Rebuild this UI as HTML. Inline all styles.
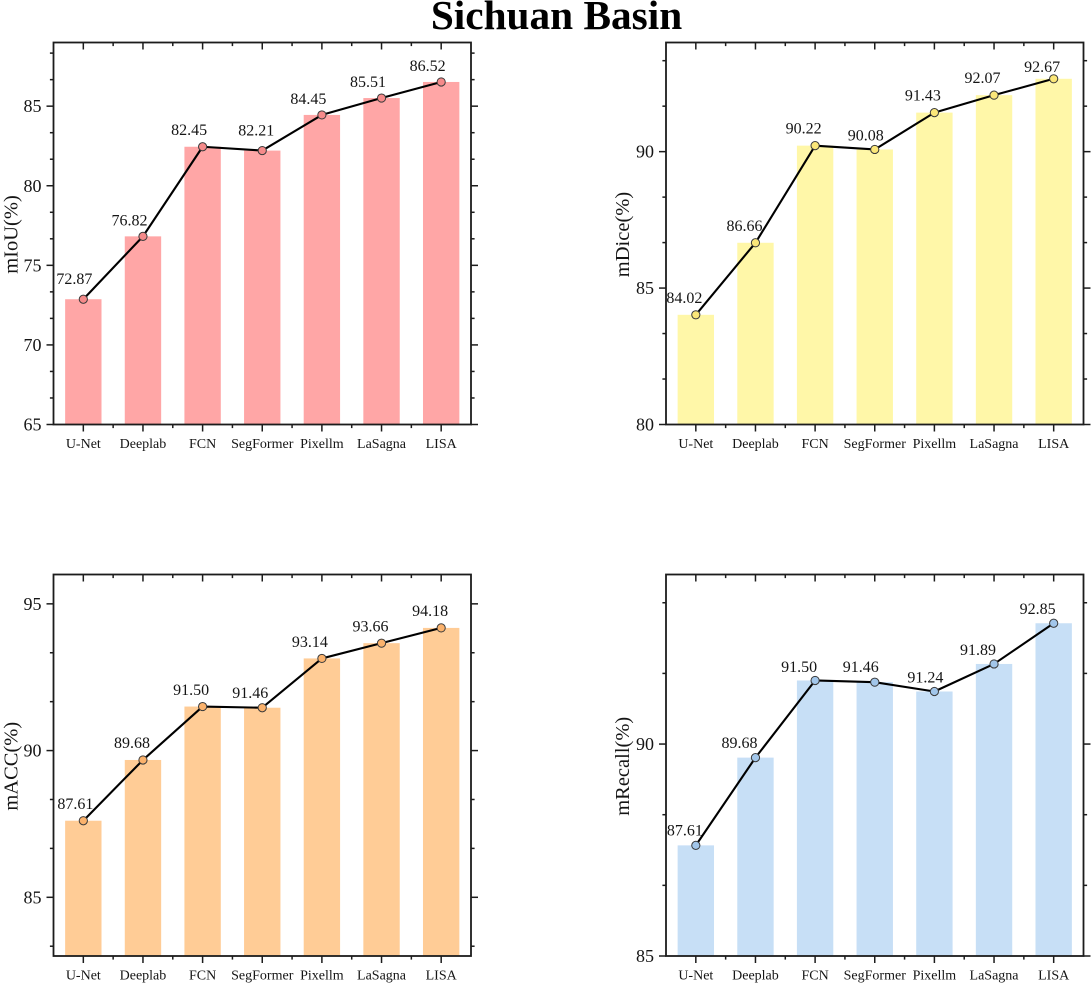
<!DOCTYPE html>
<html lang="en">
<head>
<meta charset="utf-8">
<title>Sichuan Basin</title>
<style>
  html, body { margin: 0; padding: 0; background: #fff; }
  body { width: 1091px; height: 983px; overflow: hidden; }
  svg { display: block; font-family: "Liberation Serif", "Times New Roman", serif; filter: blur(0.35px); }
  text { fill: #151515; }
</style>
</head>
<body>
<svg id="figure" xmlns="http://www.w3.org/2000/svg" width="1091" height="983" viewBox="0 0 1091 983">
  <text x="556.5" y="29" text-anchor="middle" font-size="41.3" font-weight="bold" style="fill:#000">Sichuan Basin</text>
</svg>
<script>
// ---- data -------------------------------------------------------------
const categories = ['U-Net', 'Deeplab', 'FCN', 'SegFormer', 'Pixellm', 'LaSagna', 'LISA'];

const miouValues = [72.87, 76.82, 82.45, 82.21, 84.45, 85.51, 86.52];
const miouLabels = ['72.87', '76.82', '82.45', '82.21', '84.45', '85.51', '86.52'];
const miouTicks = [65, 70, 75, 80, 85];
const miouDomain = [65, 89];

const mdiceValues = [84.02, 86.66, 90.22, 90.08, 91.43, 92.07, 92.67];
const mdiceLabels = ['84.02', '86.66', '90.22', '90.08', '91.43', '92.07', '92.67'];
const mdiceTicks = [80, 85, 90];
const mdiceDomain = [80, 94];

const maccValues = [87.61, 89.68, 91.50, 91.46, 93.14, 93.66, 94.18];
const maccLabels = ['87.61', '89.68', '91.50', '91.46', '93.14', '93.66', '94.18'];
const maccTicks = [85, 90, 95];
const maccDomain = [83, 96];

const mrecallValues = [87.61, 89.68, 91.50, 91.46, 91.24, 91.89, 92.85];
const mrecallLabels = ['87.61', '89.68', '91.50', '91.46', '91.24', '91.89', '92.85'];
const mrecallTicks = [85, 90];
const mrecallDomain = [85, 94];

// ---- layout / style (not data) ----------------------------------------
const panels = [
  { key: 'miou', title: 'mIoU(%)', values: miouValues, labels: miouLabels, ticks: miouTicks, domain: miouDomain,
    left: 53.5, right: 471, top: 42.5, bottom: 424.5, titleX: 17.5,
    bar: '#FFA6A6', marker: '#F58A8A',
    nudgeX: [-9, -13.5, -13.5, -6, -13.5, -13.5, -13.5], nudgeY: [-15, -11, -12, -15, -11, -11, -11] },
  { key: 'mdice', title: 'mDice(%)', values: mdiceValues, labels: mdiceLabels, ticks: mdiceTicks, domain: mdiceDomain,
    left: 666, right: 1083.5, top: 42.5, bottom: 424.5, titleX: 629,
    bar: '#FFF7A8', marker: '#FBE779',
    nudgeX: [-11.5, -11, -11.5, -9, -11.5, -11.5, -11.5], nudgeY: [-12, -12, -12, -9, -12, -12, -7] },
  { key: 'macc', title: 'mACC(%)', values: maccValues, labels: maccLabels, ticks: maccTicks, domain: maccDomain,
    left: 53.5, right: 471, top: 574.5, bottom: 956, titleX: 17.5,
    bar: '#FFCC96', marker: '#FBB26C',
    nudgeX: [-8, -11, -11.5, -12, -12, -11, -11], nudgeY: [-11.5, -12, -11.5, -9.5, -11.5, -11.5, -12] },
  { key: 'mrecall', title: 'mRecall(%)', values: mrecallValues, labels: mrecallLabels, ticks: mrecallTicks, domain: mrecallDomain,
    left: 666, right: 1083.5, top: 574.5, bottom: 956, titleX: 629,
    bar: '#C7DFF6', marker: '#A2C6EA',
    nudgeX: [-11, -16, -16, -14, -9, -16, -16], nudgeY: [-10, -9.5, -8.5, -10, -9, -9, -9] }
];

// ---- drawing ----------------------------------------------------------
const NS = 'http://www.w3.org/2000/svg';
const INK = '#1c1c1c';
const figure = document.getElementById('figure');

function make(tag, parent) {
  const el = document.createElementNS(NS, tag);
  parent.appendChild(el);
  return el;
}

function setAll(el, props) {
  for (const k in props) el.setAttribute(k, props[k]);
  return el;
}

function drawPanel(p) {
  const n = categories.length;
  const step = (p.right - p.left) / n;
  const xScale = i => p.left + step * (i + 0.5);
  const yScale = v => p.bottom - (v - p.domain[0]) / (p.domain[1] - p.domain[0]) * (p.bottom - p.top);

  const g = make('g', figure);
  
  

  // bars
  p.values.forEach((v, i) => {
    const bar = make('rect', g);
    setAll(bar, { x: xScale(i) - step * 0.305, y: yScale(v), width: step * 0.61, height: p.bottom - yScale(v), fill: p.bar });
    
    
  });

  // y ticks on the left and right (outward); every third tick is a major one
  const majorGap = p.ticks[1] - p.ticks[0];
  const minorStep = majorGap / 3;
  const firstSteps = Math.floor((p.ticks[0] - p.domain[0]) / minorStep + 1e-6);
  const lastSteps = Math.floor((p.domain[1] - p.ticks[0]) / minorStep + 1e-6);
  for (let s = -firstSteps; s <= lastSteps; s++) {
    const isMajor = ((s % 3) + 3) % 3 === 0;
    const len = isMajor ? 7 : 3.6;
    const y = yScale(p.ticks[0] + s * minorStep);
    [[p.left, p.left - len], [p.right, p.right + len]].forEach((ends, side) => {
      const tick = make('line', g);
      setAll(tick, { x1: ends[0], x2: ends[1], y1: y, y2: y, stroke: INK, 'stroke-width': 1.5 });
      
      
    });
  }

  // y tick labels
  p.ticks.forEach(t => {
    const label = make('text', g);
    setAll(label, { x: p.left - 12, y: yScale(t) + 6, 'text-anchor': 'end', 'font-size': 18 });
    label.textContent = String(t);
    
    
  });

  // x ticks (major at categories, minor between) on top and bottom
  for (let i = 1; i < n * 2; i++) {
    const len = i % 2 === 1 ? 7 : 3.6;
    const x = p.left + step * i / 2;
    const bottomTick = make('line', g);
    setAll(bottomTick, { x1: x, x2: x, y1: p.bottom, y2: p.bottom + len, stroke: INK, 'stroke-width': 1.5 });
    
    
    const topTick = make('line', g);
    setAll(topTick, { x1: x, x2: x, y1: p.top, y2: p.top + len, stroke: INK, 'stroke-width': 1.5 });
    
    
  }

  // x tick labels
  categories.forEach((c, i) => {
    const label = make('text', g);
    setAll(label, { x: xScale(i), y: p.bottom + 23.5, 'text-anchor': 'middle', 'font-size': 14 });
    label.textContent = c;
    
    
  });

  // frame
  const frame = make('rect', g);
  setAll(frame, { x: p.left, y: p.top, width: p.right - p.left, height: p.bottom - p.top, fill: 'none', stroke: INK, 'stroke-width': 1.8 });
  
  

  // y-axis title
  const midY = (p.top + p.bottom) / 2 + 1;
  const title = make('text', g);
  setAll(title, { x: p.titleX, y: midY, 'text-anchor': 'middle', 'font-size': 20.5, transform: 'rotate(-90 ' + p.titleX + ' ' + midY + ')' });
  title.textContent = p.title;
  
  

  // line
  const line = make('polyline', g);
  setAll(line, { points: p.values.map((v, i) => xScale(i) + ',' + yScale(v)).join(' '), fill: 'none', stroke: '#000', 'stroke-width': 2.1, 'stroke-linejoin': 'round' });
  
  

  // points and value labels
  p.values.forEach((v, i) => {
    const dot = make('circle', g);
    setAll(dot, { cx: xScale(i), cy: yScale(v), r: 4.1, fill: p.marker, stroke: '#3a3a3a', 'stroke-width': 1 });
    
    

    const label = make('text', g);
    setAll(label, { x: xScale(i) + p.nudgeX[i], y: yScale(v) + p.nudgeY[i], 'text-anchor': 'middle', 'font-size': 16 });
    label.textContent = p.labels[i];
    
    
  });
}

panels.forEach(drawPanel);
</script>
</body>
</html>
